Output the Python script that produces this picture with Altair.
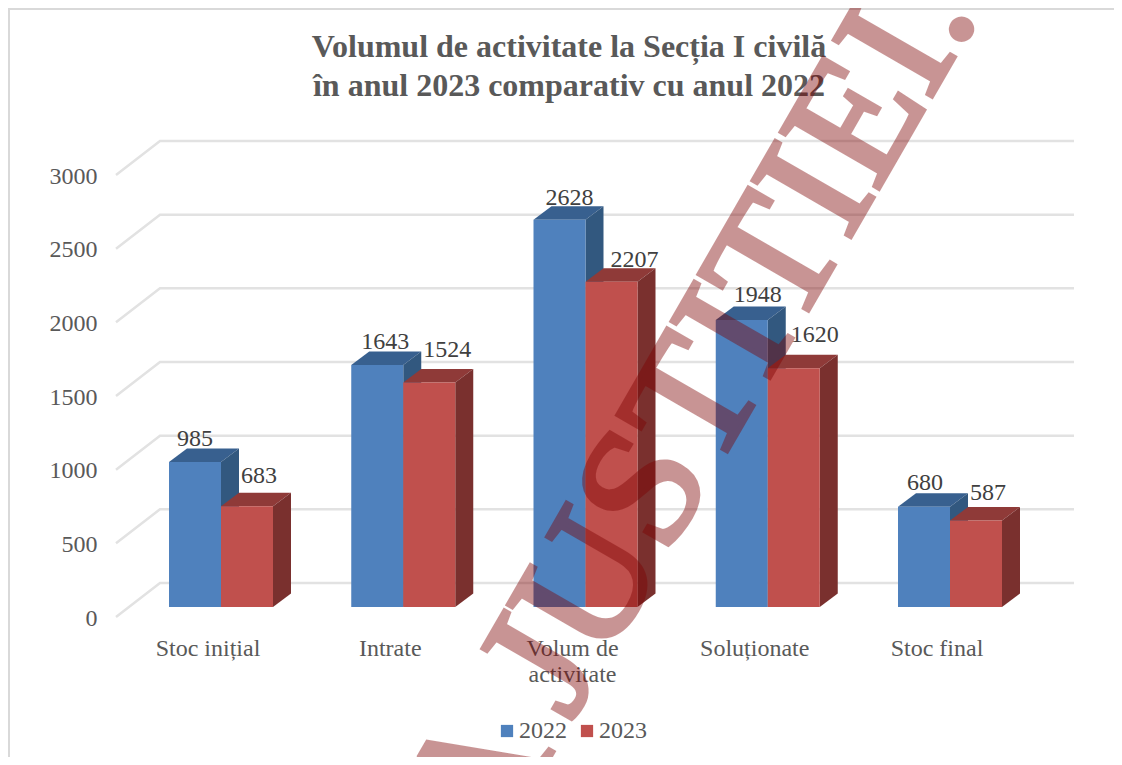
import altair as alt
import pandas as pd

categories = ["Stoc inițial", "Intrate", "Volum de\nactivitate", "Soluționate", "Stoc final"]
v2022 = [985, 1643, 2628, 1948, 680]
v2023 = [683, 1524, 2207, 1620, 587]
years = ["2022", "2023"]
ticks = [0, 500, 1000, 1500, 2000, 2500, 3000]
title_text = "Volumul de activitate la Secția I civilă\nîn anul 2023 comparativ cu anul 2022"
watermark = "A JUSTITIEI.."

# pixel geometry of the fake 3D projection
PLOT_W, PLOT_H = 958, 442
PX_X = 182.25            # px per category
PX_Y = PLOT_H / 3000     # px per value
X_MIN = (116 - 221) / PX_X
X_MAX = X_MIN + PLOT_W / PX_X
BAR_W = 52 / PX_X
DX = 18 / PX_X
DY = 13.5 / PX_Y
BASE = 10 / PX_Y
WALL_X = 44 / PX_X
WALL_Y = 34 / PX_Y

label_dx = {"2022": [0, 8, 10, 16, 1], "2023": [12, 18, 23, 21, 12]}
label_py = {"2022": [24, 24, 23, 26, 25], "2023": [32, 34, 23, 35, 29]}

xs = alt.Scale(domain=[X_MIN, X_MAX], nice=False, zero=False)
ys = alt.Scale(domain=[0, 3000], nice=False, zero=False)
color = alt.Scale(domain=years, range=["#4f81bd", "#c0504d"])
top_c = {"2022": "#38608f", "2023": "#8f3a38"}
side_c = {"2022": "#32587f", "2023": "#7a302e"}

fronts, tops, sides, labels = [], [], [], []
for yi, (yr, vals) in enumerate(zip(years, [v2022, v2023])):
    for i, v in enumerate(vals):
        x0 = i - BAR_W + yi * BAR_W
        x1 = x0 + BAR_W
        t = v + BASE
        bid = f"{yr}-{i}"
        fronts.append(dict(year=yr, x=x0, x2=x1, y=BASE, y2=t))
        tops += [dict(id=bid, year=yr, x=x0, x2=x1, y=t),
                 dict(id=bid, year=yr, x=x0 + DX, x2=x1 + DX, y=t + DY)]
        sides += [dict(id=bid, year=yr, x=x1, y=BASE, y2=t),
                  dict(id=bid, year=yr, x=x1 + DX, y=BASE + DY, y2=t + DY)]
        labels.append(dict(value=v, x=(x0 + x1) / 2 + label_dx[yr][i] / PX_X,
                           y=t + (label_py[yr][i] - 1.5) / PX_Y))
fronts, tops, sides, labels = map(pd.DataFrame, (fronts, tops, sides, labels))

grid = pd.DataFrame(
    [dict(t=v, o=0, x=X_MIN, y=v) for v in ticks]
    + [dict(t=v, o=1, x=X_MIN + WALL_X, y=v + WALL_Y) for v in ticks]
    + [dict(t=v, o=2, x=X_MAX, y=v + WALL_Y) for v in ticks]
)

y_axis = alt.Axis(values=ticks, title=None, domain=False, ticks=False, grid=False, format="d",
                  labelFont="Liberation Serif", labelFontSize=24, labelColor="#595959",
                  labelPadding=19, labelOffset=1)

X = lambda f="x": alt.X(f"{f}:Q", scale=xs, axis=None, stack=None)
Y = lambda f="y": alt.Y(f"{f}:Q", scale=ys, axis=y_axis, stack=None)

axis_layer = alt.Chart(pd.DataFrame({"y": ticks})).mark_point(opacity=0).encode(
    x=alt.value(0), y=Y())

grid_layer = alt.Chart(grid).mark_line(color="#e2e2e2", strokeWidth=2.5).encode(
    x=X(), y=Y(), detail="t:N", order="o:Q")


def depth_layers(year):
    top = alt.Chart(tops[tops.year == year]).mark_area(
        orient="horizontal", color=top_c[year]).encode(
        x=X(), x2="x2:Q", y=Y(), detail="id:N")
    side = alt.Chart(sides[sides.year == year]).mark_area(
        orient="vertical", color=side_c[year]).encode(
        x=X(), y=Y(), y2="y2:Q", detail="id:N")
    return [top, side]


front_layer = alt.Chart(fronts).mark_rect().encode(
    x=X(), x2="x2:Q", y=Y(), y2="y2:Q",
    color=alt.Color("year:N", scale=color, legend=alt.Legend(
        title=None, orient="none", legendX=379, legendY=544, direction="horizontal",
        symbolType="square", symbolSize=150, symbolStrokeWidth=0, symbolOpacity=1,
        labelFont="Liberation Serif", labelFontSize=24, labelColor="#595959",
        labelOffset=0, columnPadding=8, zindex=0)))

label_layer = alt.Chart(labels).mark_text(
    font="Liberation Serif", fontSize=24, color="#404040", baseline="middle").encode(
    x=X(), y=Y(), text="value:Q")

cat_df = pd.DataFrame({"x": [i - 13 / PX_X for i in range(5)], "name": categories})
cat_layer = alt.Chart(cat_df).mark_text(
    font="Liberation Serif", fontSize=24, color="#595959", lineBreak="\n",
    lineHeight=26, baseline="alphabetic").encode(
    x=X(), y=alt.value(481), text="name:N")

title_layer = alt.Chart(pd.DataFrame({"t": [title_text]})).mark_text(
    font="Liberation Serif", fontSize=32, fontWeight="bold", color="#595959",
    lineBreak="\n", lineHeight=39, baseline="alphabetic", align="center").encode(
    x=alt.value(453), y=alt.value(-118), text="t:N")

frame_v = alt.Chart(pd.DataFrame({"a": [0]})).mark_rule(color="#d9d9d9", strokeWidth=2).encode(
    x=alt.value(-107), y=alt.value(-167), y2=alt.value(590))
frame_h = alt.Chart(pd.DataFrame({"a": [0]})).mark_rule(color="#d9d9d9", strokeWidth=2).encode(
    x=alt.value(-108), x2=alt.value(1006), y=alt.value(-166))

wm_layer = alt.Chart(pd.DataFrame({"t": [watermark]})).mark_text(
    font="Liberation Serif", fontSize=172, color="#7d0000", opacity=0.415,
    stroke="#7d0000", strokeWidth=5,
    angle=300, align="center", baseline="alphabetic").encode(
    x=alt.value(630), y=alt.value(243), text="t:N")

chart = alt.layer(
    axis_layer, frame_v, frame_h, grid_layer,
    *depth_layers("2022"), *depth_layers("2023"),
    front_layer, label_layer, cat_layer, title_layer, wm_layer
).properties(
    width=PLOT_W, height=PLOT_H,
    padding={"left": 108, "top": 167, "right": 40, "bottom": 140},
    autosize=alt.AutoSizeParams(type="none"),
    background="white",
).configure_view(stroke=None)

chart.save("out.html", embed_options={"renderer": "svg", "actions": False})
